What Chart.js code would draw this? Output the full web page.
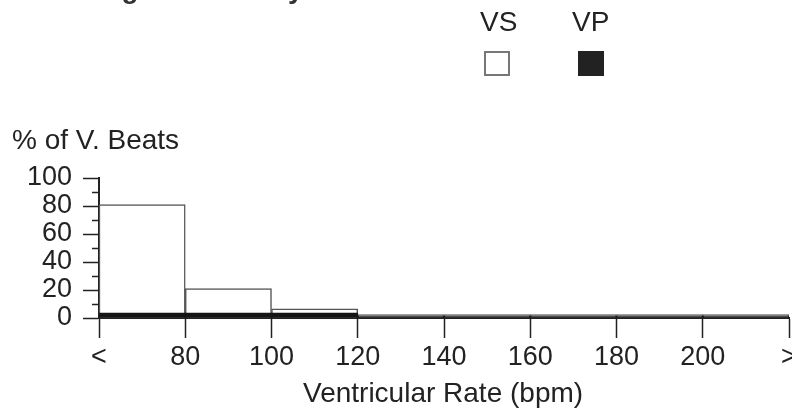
<!DOCTYPE html>
<html>
<head>
<meta charset="utf-8">
<script src="https://cdn.jsdelivr.net/npm/chart.js@4/dist/chart.umd.min.js"></script>
<style>
  body { margin: 0; background: #fff; }
  #wrap { position: relative; width: 792px; height: 409px; overflow: hidden; font-family: "Liberation Sans", Arial, sans-serif; color: #222; }
  #wrap canvas { position: absolute; left: 0; top: 0; }
  .txt { position: absolute; font-size: 28px; line-height: 28px; white-space: nowrap; }
  .box { position: absolute; width: 26px; height: 25px; box-sizing: border-box; }
</style>
</head>
<body>
<div id="wrap">
  <canvas id="rateChart" width="792" height="409"></canvas>
  <div class="txt" style="left:-20px; top:-25px; font-weight:bold; color:#333;">Rate During Atrial Tachycardia</div>
  <div class="txt" style="left:480px; top:8px;">VS</div>
  <div class="txt" style="left:572px; top:8px;">VP</div>
  <div class="box" style="left:484px; top:51px; border:2px solid #777; background:#fff;"></div>
  <div class="box" style="left:578px; top:51px; background:#222;"></div>
  <div class="txt" style="left:12px; top:126px;">% of V. Beats</div>
  <div class="txt" style="left:303px; top:379px;">Ventricular Rate (bpm)</div>
</div>
<script>
// bins of 20 bpm, "<" stands for 60 and ">" for 220 on the axis
const binCenters = [70, 90, 110, 130, 150, 170, 190, 210];
const vsValues = [81, 21, 6.5, 2.5, 2.5, 2.5, 2.5, 2.5];
const vpValues = [3.5, 3.5, 3.5, 1, 1, 1, 1, 1];
const xTickLabels = { 60: '<', 220: '>' };
const yMinorTicks = [10, 30, 50, 70, 90];

function points(vals) {
  return binCenters.map((x, i) => ({ x: x, y: vals[i] }));
}

// short minor ticks on the y axis
const minorTicks = {
  id: 'minorTicks',
  afterDraw(chart) {
    const ctx = chart.ctx;
    const y = chart.scales.y;
    ctx.save();
    ctx.strokeStyle = '#222';
    ctx.lineWidth = 1.5;
    yMinorTicks.forEach(v => {
      const py = Math.round(y.getPixelForValue(v)) + 0.5;
      ctx.beginPath();
      ctx.moveTo(y.right - 7, py);
      ctx.lineTo(y.right, py);
      ctx.stroke();
    });
    ctx.restore();
  }
};

new Chart(document.getElementById('rateChart'), {
  type: 'bar',
  data: {
    datasets: [
      {
        label: 'VS',
        data: points(vsValues),
        backgroundColor: '#fff',
        borderColor: '#555',
        borderWidth: 1.5,
        order: 2
      },
      {
        label: 'VP',
        data: points(vpValues),
        backgroundColor: '#151515',
        borderWidth: 0,
        order: 1
      }
    ]
  },
  options: {
    responsive: false,
    animation: false,
    events: [],
    layout: { padding: { left: 0, right: 3, top: 178, bottom: 0 } },
    datasets: { bar: { grouped: false, barPercentage: 1, categoryPercentage: 1 } },
    plugins: { legend: { display: false }, tooltip: { enabled: false } },
    scales: {
      x: {
        type: 'linear',
        min: 60,
        max: 220,
        offset: false,
        afterFit(s) { s.height = 91; s.paddingLeft = 0; s.paddingRight = 0; },
        border: { color: '#222', width: 2 },
        grid: { offset: false, drawOnChartArea: false, tickLength: 20, color: '#222', tickWidth: 1.5 },
        ticks: {
          stepSize: 20,
          autoSkip: false,
          maxRotation: 0,
          padding: 3,
          color: '#222',
          font: { family: 'Liberation Sans', size: 27 },
          callback: v => xTickLabels[v] || String(v)
        }
      },
      y: {
        min: 0,
        max: 100,
        afterFit(s) { s.width = 99; s.paddingTop = 0; },
        border: { color: '#222', width: 2 },
        grid: { drawOnChartArea: false, tickLength: 16, color: '#222', tickWidth: 1.5 },
        ticks: {
          stepSize: 20,
          autoSkip: false,
          padding: 11,
          color: '#222',
          font: { family: 'Liberation Sans', size: 27 }
        }
      }
    }
  },
  plugins: [minorTicks]
});
</script>
</body>
</html>
